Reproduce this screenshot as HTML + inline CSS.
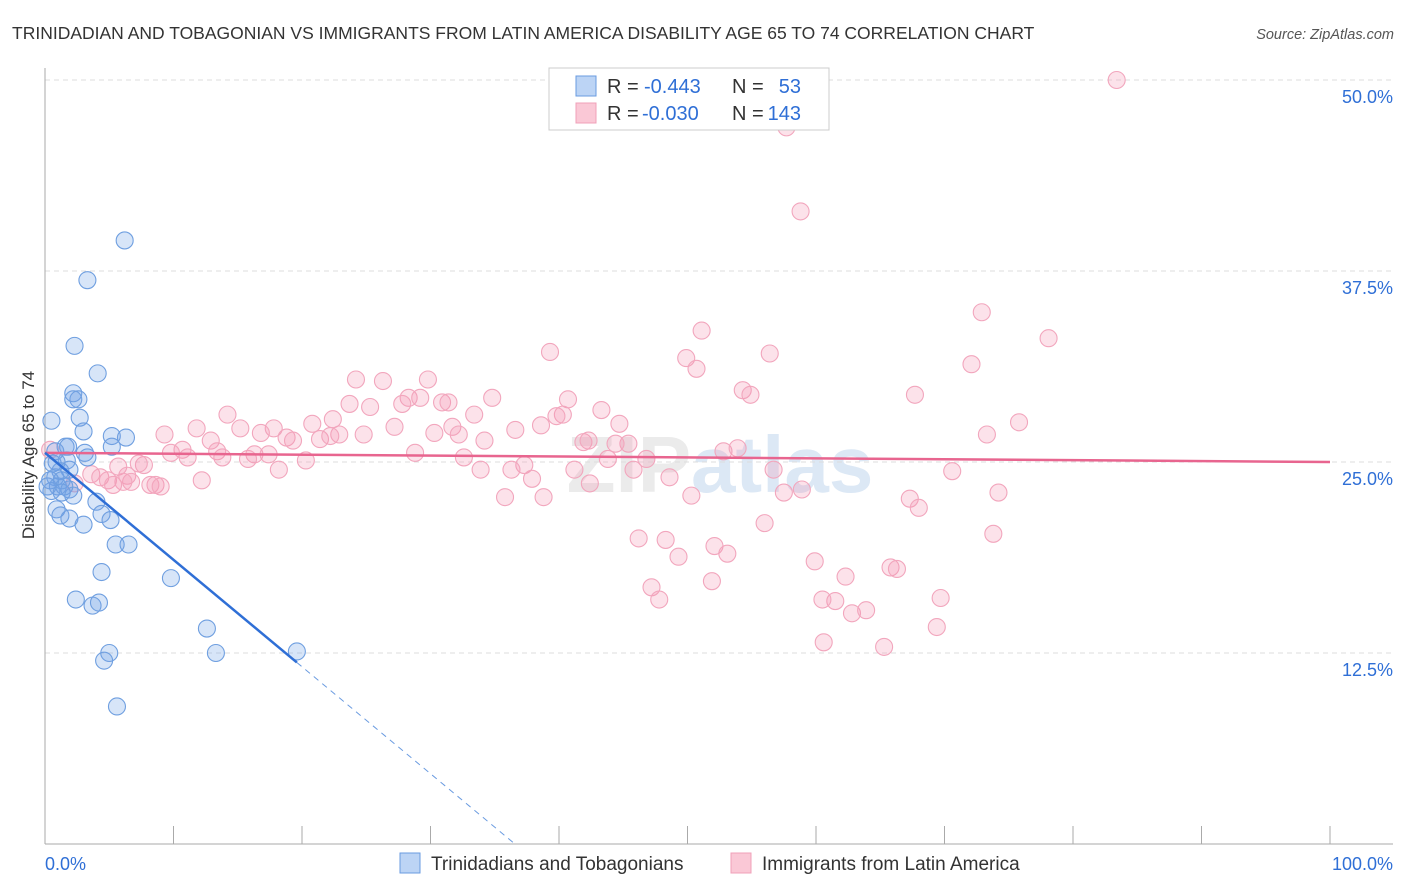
<!DOCTYPE html>
<html><head><meta charset="utf-8"><style>
body{margin:0;background:#fff;font-family:"Liberation Sans",sans-serif}
svg{display:block}
</style></head><body>
<svg id="c" width="1406" height="892">
<text x="12" y="39" font-size="17.5" fill="#333">TRINIDADIAN AND TOBAGONIAN VS IMMIGRANTS FROM LATIN AMERICA DISABILITY AGE 65 TO 74 CORRELATION CHART</text>
<text x="1394" y="39" font-size="14.5" fill="#555" font-style="italic" text-anchor="end">Source: ZipAtlas.com</text>
<text x="720" y="492" font-size="80" font-weight="bold" fill="#ebebeb" text-anchor="middle">ZIP<tspan fill="#dce8f5">atlas</tspan></text>
<g id="grid"></g>
<g id="axes"></g>
<g id="pts"></g>
<g id="lines"></g>
<text transform="translate(34,455) rotate(-90)" font-size="17" fill="#333" text-anchor="middle">Disability Age 65 to 74</text>
<g>
<rect x="549" y="68" width="280" height="62" fill="#fff" stroke="#ccc"/>
<rect x="576" y="76" width="20" height="20" fill="#bcd4f5" stroke="#6a9be0"/>
<rect x="576" y="103" width="20" height="20" fill="#fac8d6" stroke="#f0a0b8"/>
<g font-size="20" fill="#333">
<text x="607" y="93">R =</text><text x="644" y="93" fill="#2f6fd6">-0.443</text><text x="732" y="93">N =</text><text x="801" y="93" fill="#2f6fd6" text-anchor="end">53</text></g>
<g font-size="20" fill="#333">
<text x="607" y="120">R =</text><text x="642" y="120" fill="#2f6fd6">-0.030</text><text x="732" y="120">N =</text><text x="801" y="120" fill="#2f6fd6" text-anchor="end">143</text></g>
</g>
<g>
<rect x="400" y="853" width="20" height="20" fill="#bcd4f5" stroke="#6a9be0"/>
<text x="431" y="870" font-size="19" fill="#333">Trinidadians and Tobagonians</text>
<rect x="731" y="853" width="20" height="20" fill="#fac8d6" stroke="#f0a0b8"/>
<text x="762" y="870" font-size="19" fill="#333">Immigrants from Latin America</text>
</g>
</svg>
<script>
const yTicks=[12.5,25,37.5,50];
const yTickLabels=["12.5%","25.0%","37.5%","50.0%"];
const xTickLabels=["0.0%","100.0%"];
const blueTrend=[25.6,-0.70];
const pinkTrend=[25.6,-0.006];
const blueX=[6.2,3.3,2.3,4.1,2.2,2.6,2.2,2.7,0.5,3.0,5.2,6.3,1.6,5.2,3.1,3.3,1.7,0.9,0.6,1.9,1.2,0.8,1.3,1.0,1.9,0.5,1.5,2.2,4.0,0.9,1.2,1.9,4.4,5.1,3.0,5.5,6.5,4.4,9.8,2.4,3.7,4.2,12.6,5.0,4.6,13.3,5.6,19.6,0.4,0.2,0.8,1.8,1.3];
const blueY=[39.5,36.9,32.6,30.8,29.5,29.1,29.1,27.9,27.7,27.0,26.7,26.6,26.0,26.0,25.6,25.3,25.1,25.0,24.9,24.5,24.4,24.0,23.8,23.4,23.2,23.1,23.4,22.8,22.4,21.9,21.5,21.3,21.6,21.2,20.9,19.6,19.6,17.8,17.4,16.0,15.6,15.8,14.1,12.5,12.0,12.5,9.0,12.6,23.8,23.4,25.7,26.0,23.0];
const pinkX=[83.4,57.7,58.8,72.9,51.1,78.1,39.3,49.9,56.4,50.7,72.1,24.2,26.3,29.8,54.3,54.9,34.8,67.7,40.7,28.3,27.8,29.2,30.9,31.4,23.7,25.3,43.3,40.3,14.2,33.4,22.4,20.8,44.7,11.8,15.2,17.8,31.7,27.2,36.6,38.6,39.8,30.3,16.8,18.8,21.4,22.9,24.8,32.2,73.3,75.8,9.3,34.2,12.9,19.3,22.2,41.9,45.4,44.4,42.3,10.7,9.8,13.4,16.3,13.8,17.4,11.1,28.8,32.6,20.3,43.8,46.8,52.8,53.9,15.8,0.4,5.7,7.7,7.3,18.2,33.9,37.3,36.3,45.8,41.2,56.7,48.6,70.6,3.6,4.3,6.4,4.9,6.7,2.3,12.2,37.9,42.4,8.6,8.2,6.1,5.3,9.0,58.9,57.5,74.2,50.3,35.8,38.8,67.3,68.0,56.0,73.8,48.3,46.2,52.1,53.1,49.3,59.9,65.8,66.3,62.3,51.9,47.2,69.7,47.8,61.5,60.5,62.8,63.9,69.4,60.6,65.3,56.1,55.9,55.3];
const pinkY=[50.0,46.9,41.4,34.8,33.6,33.1,32.2,31.8,32.1,31.1,31.4,30.4,30.3,30.4,29.7,29.4,29.2,29.4,29.1,29.2,28.8,29.2,28.9,28.9,28.8,28.6,28.4,28.1,28.1,28.1,27.8,27.5,27.5,27.2,27.2,27.2,27.3,27.3,27.1,27.4,28.0,26.9,26.9,26.6,26.5,26.8,26.8,26.8,26.8,27.6,26.8,26.4,26.4,26.4,26.7,26.3,26.2,26.2,26.4,25.8,25.6,25.7,25.5,25.3,25.5,25.3,25.6,25.3,25.1,25.2,25.2,25.7,25.9,25.2,25.8,24.7,24.8,24.9,24.5,24.5,24.8,24.5,24.5,24.5,24.5,24.0,24.4,24.2,24.0,24.1,23.8,23.7,23.6,23.8,23.9,23.6,23.5,23.5,23.7,23.5,23.4,23.2,23.0,23.0,22.8,22.7,22.7,22.6,22.0,21.0,20.3,19.9,20.0,19.5,19.0,18.8,18.5,18.1,18.0,17.5,17.2,16.8,16.1,16.0,15.9,16.0,15.1,15.3,14.2,13.2,12.9];
</script>
<script>
const NS="http://www.w3.org/2000/svg";
const X0=45,X1=1330,YB=844,PX=15.28;
const sx=v=>X0+(X1-X0)*v/100, sy=v=>YB-v*PX;
function mk(t,a,p){const e=document.createElementNS(NS,t);for(const k in a)e.setAttribute(k,a[k]);p.appendChild(e);return e;}
const grid=document.getElementById('grid'),axes=document.getElementById('axes'),pts=document.getElementById('pts'),lines=document.getElementById('lines');
yTicks.forEach((t,i)=>{
 const g=mk('line',{x1:X0,x2:1393,y1:sy(t),y2:sy(t),stroke:'#ddd','stroke-dasharray':'5,4'},grid);
 
 
 const l=mk('text',{x:1393,y:sy(t)+23,'font-size':18,fill:'#2f6fd6','text-anchor':'end'},axes);
 l.textContent=yTickLabels[i];
 
 
});
const ya=mk('line',{x1:X0,x2:X0,y1:68,y2:YB,stroke:'#aaa'},axes);


const xa=mk('line',{x1:X0,x2:1393,y1:YB,y2:YB,stroke:'#aaa'},axes);


for(let i=0;i<=10;i++){const t=mk('line',{x1:sx(i*10),x2:sx(i*10),y1:YB,y2:YB-18,stroke:'#aaa'},axes);
 
 }
[[0,'start',45],[100,'end',1393]].forEach((d,i)=>{const l=mk('text',{x:d[2],y:870,'font-size':18,fill:'#2f6fd6','text-anchor':d[1]},axes);l.textContent=xTickLabels[i];
 
 });
function draw(xs,ys,fill,stroke,name){const n=Math.min(xs.length,ys.length);for(let i=0;i<n;i++){const c=mk('circle',{cx:sx(xs[i]),cy:sy(ys[i]),r:8.5,fill:fill,stroke:stroke,'stroke-width':1.1},pts);
 
 }}
draw(pinkX,pinkY,'rgba(245,150,180,0.28)','#f2a6bd','latin-america-point');
draw(blueX,blueY,'rgba(110,160,230,0.28)','#6f9fe0','trinidadian-point');
const pf=pinkTrend;
const pl=mk('line',{x1:sx(0),y1:sy(pf[0]),x2:sx(100),y2:sy(pf[0]+pf[1]*100),stroke:'#e8658f','stroke-width':2.5},lines);


const bf=blueTrend;const bmax=Math.max(...blueX);const bz=-bf[0]/bf[1];
const bl=mk('line',{x1:sx(0),y1:sy(bf[0]),x2:sx(bmax),y2:sy(bf[0]+bf[1]*bmax),stroke:'#2f6fd6','stroke-width':2.5},lines);


const bd=mk('line',{x1:sx(bmax),y1:sy(bf[0]+bf[1]*bmax),x2:sx(bz),y2:sy(0),stroke:'#6a9be0','stroke-width':1,'stroke-dasharray':'6,5'},lines);


</script>
</body></html>
